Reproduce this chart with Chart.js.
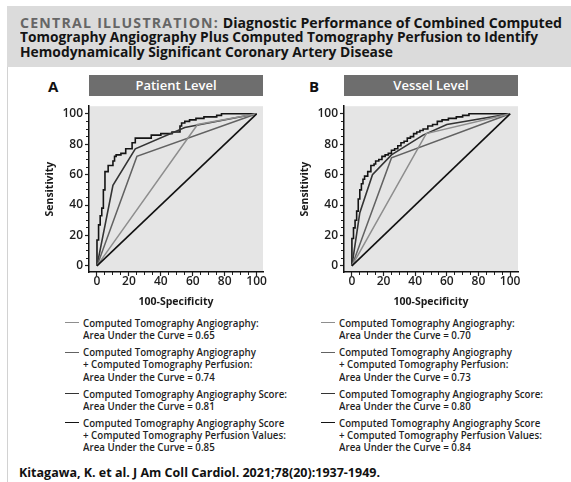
<!DOCTYPE html>
<html>
<head>
<meta charset="utf-8">
<script src="https://cdn.jsdelivr.net/npm/chart.js@4.4.1/dist/chart.umd.min.js"></script>
<style>
  html, body { margin: 0; padding: 0; background: #fff; width: 571px; height: 482px; overflow: hidden; }
  body { position: relative; font-family: "Open Sans", sans-serif; color: #1a1a1a; }
  #frame { position: absolute; left: 7px; top: 6px; width: 564px; height: 476px; border-left: 1px solid #d2d2d2; }
  #titlebg { position: absolute; left: 7px; top: 6px; width: 564px; height: 61px; background: #dbdbdb; }
  .fit { position: absolute; white-space: nowrap; transform-origin: 0 50%; display: inline-block; }
  .tl { left: 20px; font-weight: 700; font-size: 13.8px; line-height: 15px; color: #141414; }
  .tl .cap { color: #666; letter-spacing: 1.2px; }
  .panel-letter { position: absolute; font-weight: 700; font-size: 15px; line-height: 15px; color: #111; }
  .hdr { position: absolute; top: 75px; width: 174px; height: 21px; background: #6e6e6e; color: #fff;
         font-weight: 600; font-size: 13px; line-height: 21px; text-align: center; }
  .chartbox { position: absolute; top: 97px; width: 230px; height: 215px; }
  .leg { position: absolute; font-size: 11.3px; font-weight: 600; color: #1f1f1f; }
  .leg .mk { position: absolute; width: 14px; height: 0; border-top: 1.7px solid #000; }
  .leg .ln { position: absolute; white-space: nowrap; line-height: 12.2px; transform-origin: 0 50%; }
  #cite { left: 19px; top: 465px; font-weight: 700; font-size: 12.8px; line-height: 15px; color: #111; }
</style>
</head>
<body>
<div id="frame"></div>
<div id="titlebg"></div>
<div class="fit tl" id="t1" style="top:15px"><span class="cap">CENTRAL ILLUSTRATION:</span> Diagnostic Performance of Combined Computed</div>
<div class="fit tl" id="t2" style="top:29px">Tomography Angiography Plus Computed Tomography Perfusion to Identify</div>
<div class="fit tl" id="t3" style="top:43.5px">Hemodynamically Significant Coronary Artery Disease</div>

<div class="panel-letter" style="left:48px; top:79px">A</div>
<div class="hdr" style="left:89px">Patient Level</div>
<div class="panel-letter" style="left:309px; top:79px">B</div>
<div class="hdr" style="left:344px">Vessel Level</div>

<div class="chartbox" style="left:40px"><canvas id="chartA" width="230" height="215"></canvas></div>
<div class="chartbox" style="left:295px"><canvas id="chartB" width="230" height="215"></canvas></div>

<div class="leg" id="legA" style="left:65px; top:317px"></div>
<div class="leg" id="legB" style="left:321px; top:317px"></div>

<div class="fit" id="cite">Kitagawa, K. et al. J Am Coll Cardiol. 2021;78(20):1937-1949.</div>

<script>
// Axis tick values (100-Specificity and Sensitivity, percent)
const tickValues = [0, 20, 40, 60, 80, 100];
const minorTickValues = [0, 5, 10, 15, 20, 25, 30, 35, 40, 45, 50, 55, 60, 65, 70, 75, 80, 85, 90, 95, 100];

// Reference (chance) line
const chanceX = [0, 100];
const chanceY = [0, 100];

// Patient level ROC points: x = 100-specificity, y = sensitivity
const ptCtaX = [0, 63, 100];
const ptCtaY = [0, 93, 100];
const ptCtaCtpX = [0, 25, 100];
const ptCtaCtpY = [0, 72, 100];
const ptScoreX = [0, 10, 24, 55, 100];
const ptScoreY = [0, 53, 77, 91, 100];
const ptScoreCtpX = [0, 0, 1, 2, 3, 4, 5, 7, 10, 11, 12, 15, 18, 22, 24, 34, 40, 47, 52, 53, 55, 58, 62, 67, 75, 78, 90, 100];
const ptScoreCtpY = [0, 8, 17, 27, 33, 38, 50, 62, 66, 69, 72, 73, 74, 77, 81, 84, 86, 87, 88, 92, 94, 95, 96, 97, 98, 99, 100, 100];

// Vessel level ROC points
const vsCtaX = [0, 47, 100];
const vsCtaY = [0, 87, 100];
const vsCtaCtpX = [0, 25, 100];
const vsCtaCtpY = [0, 71, 100];
const vsScoreX = [0, 5, 13, 25, 45, 60, 100];
const vsScoreY = [0, 35, 60, 73, 86, 93, 100];
const vsScoreCtpX = [0, 0, 1, 2, 3, 4, 5, 6, 7, 8, 10, 12, 14, 15, 17, 19, 21, 23, 25, 27, 29, 31, 33, 35, 37, 39, 41, 43, 45, 48, 51, 54, 57, 61, 66, 70, 74, 78, 100];
const vsScoreCtpY = [0, 10, 18, 25, 30, 36, 44, 50, 54, 57, 59, 62, 66, 67, 69, 70, 72, 73, 74, 76, 77, 79, 81, 82, 84, 85, 87, 88, 89, 90, 92, 93, 95, 96, 97, 98, 99, 100, 100];

// Legend text per panel
const seriesNames = [
  ['Computed Tomography Angiography:'],
  ['Computed Tomography Angiography', '+ Computed Tomography Perfusion:'],
  ['Computed Tomography Angiography Score:'],
  ['Computed Tomography Angiography Score', '+ Computed Tomography Perfusion Values:']
];
const aucPatient = ['0.65', '0.74', '0.81', '0.85'];
const aucVessel = ['0.70', '0.73', '0.80', '0.84'];

const seriesColors = ['#8e8e8e', '#626262', '#343434', '#141414'];
const chanceColor = '#111111';

const zip = (xs, ys) => xs.map((x, i) => ({ x: x, y: ys[i] }));

const plotBackground = {
  id: 'plotBackground',
  beforeDraw(chart) {
    const a = chart.chartArea, ctx = chart.ctx;
    ctx.save();
    ctx.fillStyle = '#e5e5e5';
    ctx.fillRect(a.left, a.top, a.right - a.left, a.bottom - a.top);
    ctx.restore();
  }
};

const tickFont = { family: '"Open Sans", sans-serif', size: 12, weight: '600' };
const titleFont = { family: '"Open Sans", sans-serif', size: 10.5, weight: '700' };

function lineDs(points, color, width, stepped) {
  return {
    data: points, borderColor: color, borderWidth: width, pointRadius: 0, pointHoverRadius: 0,
    showLine: true, fill: false, tension: 0, stepped: stepped || false, borderJoinStyle: 'miter'
  };
}

function makeChart(id, sets, xMax) {
  const datasets = [
    lineDs(zip(chanceX, chanceY), chanceColor, 1.6),
    lineDs(zip(sets[0][0], sets[0][1]), seriesColors[0], 1.5),
    lineDs(zip(sets[1][0], sets[1][1]), seriesColors[1], 1.5),
    lineDs(zip(sets[2][0], sets[2][1]), seriesColors[2], 1.6),
    lineDs(zip(sets[3][0], sets[3][1]), seriesColors[3], 1.6, 'after')
  ];
  return new Chart(document.getElementById(id), {
    type: 'scatter',
    data: { datasets: datasets },
    plugins: [plotBackground],
    options: {
      responsive: false, animation: false, events: [],
      layout: { padding: { left: 0, top: 2, right: 7, bottom: 0 } },
      plugins: { legend: { display: false }, tooltip: { enabled: false } },
      scales: {
        xm: {
          type: 'linear', position: 'bottom', weight: 0, min: -5, max: xMax,
          afterBuildTicks: s => { s.ticks = minorTickValues.map(v => ({ value: v })); },
          afterFit: s => { s.height = 0; },
          grid: { drawOnChartArea: false, drawTicks: true, tickLength: 3, color: '#222', tickWidth: 1 },
          border: { display: false },
          ticks: { display: false }
        },
        x: {
          type: 'linear', position: 'bottom', weight: 1, min: -5, max: xMax,
          afterBuildTicks: s => { s.ticks = tickValues.map(v => ({ value: v })); },
          afterFit: s => { s.height = 40; },
          grid: { drawOnChartArea: false, drawTicks: true, tickLength: 4, color: '#222', tickWidth: 1.2 },
          border: { display: true, color: '#111', width: 1.5 },
          ticks: { font: tickFont, color: '#1e1e1e', padding: -2, maxRotation: 0, autoSkip: false, callback: v => String(v) },
          title: { display: true, text: '100-Specificity', font: titleFont, color: '#1a1a1a', padding: { top: 0, bottom: 4 } }
        },
        ym: {
          type: 'linear', position: 'left', weight: 0, min: -4, max: 105,
          afterBuildTicks: s => { s.ticks = minorTickValues.map(v => ({ value: v })); },
          afterFit: s => { s.width = 0; },
          grid: { drawOnChartArea: false, drawTicks: true, tickLength: 3, color: '#222', tickWidth: 1 },
          border: { display: false },
          ticks: { display: false }
        },
        y: {
          type: 'linear', position: 'left', weight: 1, min: -4, max: 105,
          afterBuildTicks: s => { s.ticks = tickValues.map(v => ({ value: v })); },
          afterFit: s => { s.width = 49; },
          grid: { drawOnChartArea: false, drawTicks: true, tickLength: 4, color: '#222', tickWidth: 1.2 },
          border: { display: true, color: '#111', width: 1.5 },
          ticks: { font: tickFont, color: '#1e1e1e', padding: 2, autoSkip: false, callback: v => String(v) },
          title: { display: true, text: 'Sensitivity', font: titleFont, color: '#1a1a1a', padding: { top: 4, bottom: 0 } }
        }
      }
    }
  });
}

makeChart('chartA', [[ptCtaX, ptCtaY], [ptCtaCtpX, ptCtaCtpY], [ptScoreX, ptScoreY], [ptScoreCtpX, ptScoreCtpY]], 104);
makeChart('chartB', [[vsCtaX, vsCtaY], [vsCtaCtpX, vsCtaCtpY], [vsScoreX, vsScoreY], [vsScoreCtpX, vsScoreCtpY]], 105);

// Legend blocks
function buildLegend(id, aucs) {
  const box = document.getElementById(id);
  const lh = 12.2, gap = 4.8;
  let top = 0;
  const lines = [];
  seriesNames.forEach((names, i) => {
    const mk = document.createElement('div');
    mk.className = 'mk';
    mk.style.borderTopColor = seriesColors[i];
    mk.style.top = (top + lh / 2 - 0.8) + 'px';
    mk.style.left = '0px';
    box.appendChild(mk);
    const texts = names.concat(['Area Under the Curve = ' + aucs[i]]);
    texts.forEach((t, j) => {
      const ln = document.createElement('div');
      ln.className = 'ln';
      ln.textContent = t;
      ln.style.left = '17.5px';
      ln.style.top = (top + j * lh) + 'px';
      box.appendChild(ln);
      lines.push(ln);
    });
    top += texts.length * lh + gap;
  });
  return lines;
}
const legLines = buildLegend('legA', aucPatient).concat(buildLegend('legB', aucVessel));

function widthOf(el) { return el.getBoundingClientRect().width; }
// condense text runs to the column widths of the figure
const refLine = legLines.find(l => l.textContent === 'Computed Tomography Angiography Score:');
const legScale = 204 / widthOf(refLine);
legLines.forEach(l => { l.style.transform = 'scaleX(' + legScale + ')'; });

[['t1', 542], ['t2', 518], ['t3', 373], ['cite', 361]].forEach(([id, w]) => {
  const el = document.getElementById(id);
  el.style.transform = 'scaleX(' + (w / widthOf(el)) + ')';
});
</script>
</body>
</html>
